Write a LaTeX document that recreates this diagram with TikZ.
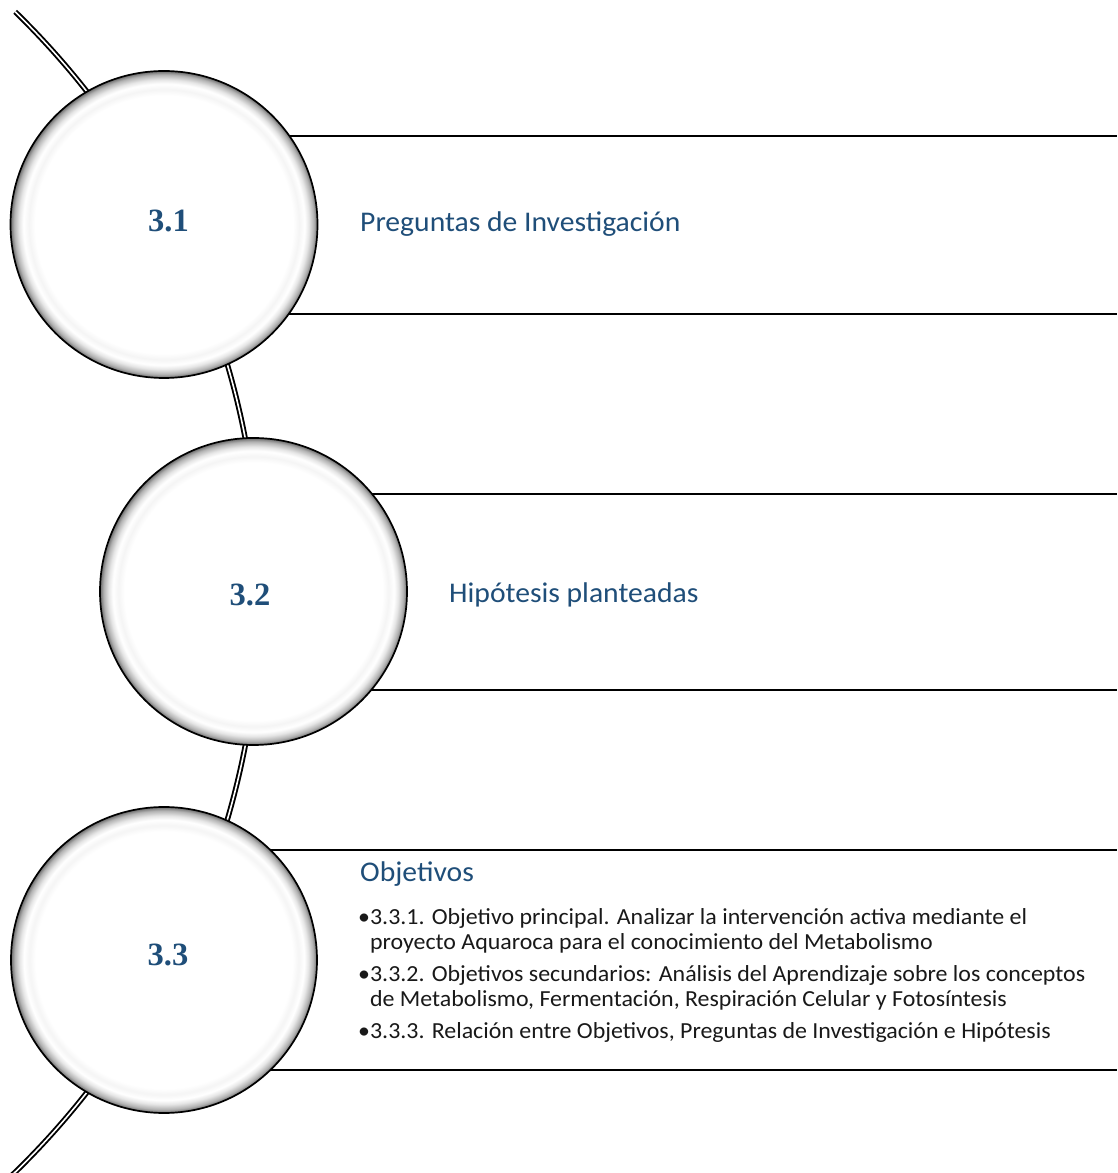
\documentclass[tikz,border=0pt]{standalone}
\usepackage{fontspec}
\setmainfont[FakeStretch=1.04]{Carlito}
\newfontfamily\numfont{Liberation Serif}
\definecolor{headblue}{RGB}{31,78,121}
% white disc with a faint inner ring and a narrow dark rim
\pgfdeclareradialshading{rimshade}{\pgfpointorigin}{%
  color(0bp)=(white); color(21bp)=(white); color(22bp)=(white!96!black);
  color(22.9bp)=(white); color(23.6bp)=(white!90!black);
  color(24.4bp)=(white!70!black); color(25bp)=(white!42!black); color(50bp)=(white!42!black)}
\begin{document}
\begin{tikzpicture}[x=1pt,y=1pt,
  stage/.style={circle, draw=black, line width=1.7pt, shade, shading=rimshade,
    minimum size=#1, inner sep=0pt},
  num/.style={inner sep=0pt, text=headblue,
    font=\numfont\bfseries\fontsize{32.5}{32.5}\selectfont},
  band/.style={draw=black, line width=1.7pt},
  rope/.style={draw=black, double=white, line width=1.9pt, double distance=1.6pt},
  title/.style={anchor=base west, inner sep=0pt, text=headblue, font=\fontsize{28.5}{32}\selectfont},
  items/.style={anchor=base west, inner sep=0pt, align=left, text=black!90,
    font=\fontsize{23}{25}\selectfont}]
\useasboundingbox (0,0) rectangle (1117,1173);
\fill[white] (0,0) rectangle (1117,1173);

% centres of the three stages
\coordinate (p1) at (164,948.5);
\coordinate (p2) at (253.5,581.5);
\coordinate (p3) at (164,213);
\coordinate (hub) at (-550,581);

% the curved thread behind the stages
\draw[rope] ([shift={(45.75:810)}]hub) arc[start angle=45.75, end angle=-46.5, radius=810];

% horizontal bands
\coordinate (e1t) at (1117,1037); \coordinate (e1b) at (1117,859);
\coordinate (e2t) at (1117,679);  \coordinate (e2b) at (1117,483);
\coordinate (e3t) at (1117,323);  \coordinate (e3b) at (1117,103);
\draw[band] (p1 |- e1t) -- (e1t);
\draw[band] (p1 |- e1b) -- (e1b);
\draw[band] (p2 |- e2t) -- (e2t);
\draw[band] (p2 |- e2b) -- (e2b);
\draw[band] (p3 |- e3t) -- (e3t);
\draw[band] (p3 |- e3b) -- (e3b);

% stages
\node[stage=307] (c1) at (p1) {};
\node[stage=307] (c2) at (p2) {};
\node[stage=306] (c3) at (p3) {};
\node[num] (n1) at (168.5,952) {3.1};
\node[num] (n2) at (250,578) {3.2};
\node[num] (n3) at (168,218.5) {3.3};

% texts
\node[title] (t1) at (360,941) {Preguntas de Investigación};
\node[title] (t2) at (449,570) {Hipótesis planteadas};
\node[title] (t3) at (360,291) {Objetivos};
% anchored on the baseline of the last line
\node[items] (l3) at (358,134) {%
  •3.3.1. Objetivo principal. Analizar la intervención activa mediante el\\
  \hphantom{•}proyecto Aquaroca para el conocimiento del Metabolismo\\[7pt]
  •3.3.2. Objetivos secundarios: Análisis del Aprendizaje sobre los conceptos\\
  \hphantom{•}de Metabolismo, Fermentación, Respiración Celular y Fotosíntesis\\[7pt]
  •3.3.3. Relación entre Objetivos, Preguntas de Investigación e Hipótesis};
\end{tikzpicture}
\end{document}
